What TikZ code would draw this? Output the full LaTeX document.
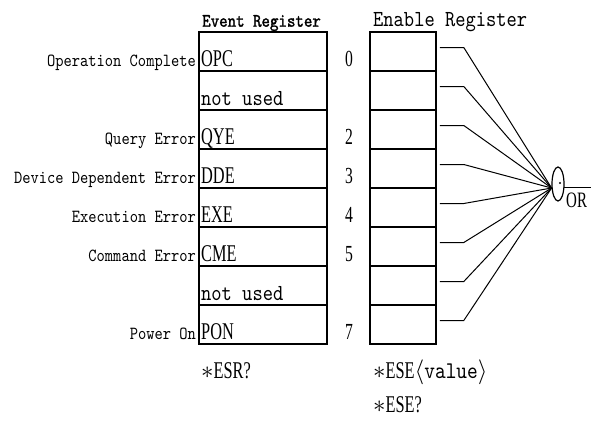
\documentclass[tikz,border=0pt]{standalone}
\usepackage{fontspec}
\usetikzlibrary{shapes,positioning,calc}
\newfontfamily\regtt[FakeStretch=0.85]{lmmono10-regular.otf}
\newfontfamily\regttbf[FakeStretch=0.85,FakeBold=1.5]{lmmono10-regular.otf}
\newfontfamily\condrm[FakeStretch=0.68]{Liberation Serif}

\begin{document}
\begin{tikzpicture}[x=1pt, y=-1pt]
    \tikzstyle{evcell} = [draw, line width=1.6pt, minimum width=128pt, minimum height=39pt, inner sep=0pt]
    \tikzstyle{encell} = [draw, line width=1.6pt, minimum width=66pt, minimum height=39pt, inner sep=0pt]
    \tikzstyle{bitname} = [anchor=base west, inner sep=0pt, font=\condrm\fontsize{24}{26}\selectfont]
    \tikzstyle{unused} = [anchor=base west, inner sep=0pt, font=\regtt\fontsize{23}{25}\selectfont]
    \tikzstyle{eventlbl} = [anchor=base east, inner sep=0pt, font=\regtt\fontsize{18.5}{20}\selectfont]
    \tikzstyle{bitno} = [anchor=base, inner sep=0pt, font=\condrm\fontsize{23}{25}\selectfont]
    \tikzstyle{cmd} = [anchor=base west, inner sep=0pt, font=\condrm\fontsize{24}{26}\selectfont]
    \tikzstyle{wire} = [line width=1pt]

    \useasboundingbox (0,0) rectangle (591,421);

    % Headings
    \node[anchor=base west, inner sep=0pt, font=\regttbf\fontsize{19}{21}\selectfont] (evhead) at (202,26.7) {Event Register};
    \node[anchor=base west, inner sep=0pt, font=\regtt\fontsize{23}{25}\selectfont] (enhead) at (373,26) {Enable Register};

    % Event register
    \node[evcell] (ev0) at (263,51.5) {};
    \node[evcell] (ev1) at (263,90.5) {};
    \node[evcell] (ev2) at (263,129.5) {};
    \node[evcell] (ev3) at (263,168.5) {};
    \node[evcell] (ev4) at (263,207.5) {};
    \node[evcell] (ev5) at (263,246.5) {};
    \node[evcell] (ev6) at (263,285.5) {};
    \node[evcell] (ev7) at (263,324.5) {};

    \node[bitname] (opc) at (201,66) {OPC};
    \node[unused] (nu1) at (201,105) {not used};
    \node[bitname] (qye) at (201,144) {QYE};
    \node[bitname] (dde) at (201,183) {DDE};
    \node[bitname] (exe) at (201,222) {EXE};
    \node[bitname] (cme) at (201,261) {CME};
    \node[unused] (nu6) at (201,300) {not used};
    \node[bitname] (pon) at (201,339) {PON};

    % Event names
    \node[eventlbl] (lopc) at (196,66) {Operation Complete};
    \node[eventlbl] (lqye) at (196,144) {Query Error};
    \node[eventlbl] (ldde) at (196,183) {Device Dependent Error};
    \node[eventlbl] (lexe) at (196,222) {Execution Error};
    \node[eventlbl] (lcme) at (196,261) {Command Error};
    \node[eventlbl] (lpon) at (196,339) {Power On};

    % Bit numbers
    \node[bitno] (b0) at (349,66) {0};
    \node[bitno] (b2) at (349,144) {2};
    \node[bitno] (b3) at (349,183) {3};
    \node[bitno] (b4) at (349,222) {4};
    \node[bitno] (b5) at (349,261) {5};
    \node[bitno] (b7) at (349,339) {7};

    % Enable register
    \node[encell] (en0) at (403,51.5) {};
    \node[encell] (en1) at (403,90.5) {};
    \node[encell] (en2) at (403,129.5) {};
    \node[encell] (en3) at (403,168.5) {};
    \node[encell] (en4) at (403,207.5) {};
    \node[encell] (en5) at (403,246.5) {};
    \node[encell] (en6) at (403,285.5) {};
    \node[encell] (en7) at (403,324.5) {};

    % OR gate
    \node[draw, ellipse, line width=1.2pt, minimum width=12pt, minimum height=34pt, inner sep=0pt] (gate) at (558,184) {};
    \fill (560,183) circle (1.1pt);
    \node[anchor=base west, inner sep=0pt, font=\condrm\fontsize{22}{24}\selectfont] (orlbl) at (566,207) {OR};
    \coordinate (orout) at (591,187.4);
    \draw[wire] (gate.330) -- (gate.330 -| orout);

    % Wires to the gate
    \draw[wire] ([xshift=3pt,yshift=4pt]en0.east) -- ++(24,0) -- (gate.212);
    \draw[wire] ([xshift=3pt,yshift=4pt]en1.east) -- ++(24,0) -- (gate.212);
    \draw[wire] ([xshift=3pt,yshift=4pt]en2.east) -- ++(24,0) -- (gate.212);
    \draw[wire] ([xshift=3pt,yshift=4pt]en3.east) -- ++(24,0) -- (gate.212);
    \draw[wire] ([xshift=3pt,yshift=4pt]en4.east) -- ++(24,0) -- (gate.212);
    \draw[wire] ([xshift=3pt,yshift=4pt]en5.east) -- ++(24,0) -- (gate.212);
    \draw[wire] ([xshift=3pt,yshift=4pt]en6.east) -- ++(24,0) -- (gate.212);
    \draw[wire] ([xshift=3pt,yshift=4pt]en7.east) -- ++(24,0) -- (gate.212);

    % Commands
    \node[cmd] (esr) at (201,378) {$\ast$ESR?};
    \node[cmd] (eseset) at (373,378) {$\ast$ESE$\langle${\regtt value}$\rangle$};
    \node[cmd] (esequery) at (373,412) {$\ast$ESE?};
\end{tikzpicture}
\end{document}
